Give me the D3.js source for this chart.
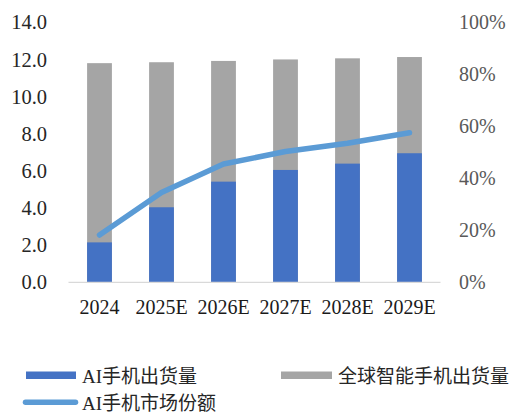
<!DOCTYPE html>
<html>
<head>
<meta charset="utf-8">
<script src="https://cdn.jsdelivr.net/npm/d3@7"></script>
<style>
  body { margin: 0; background: #fff; }
  svg { display: block; }
</style>
</head>
<body>
<svg id="chart"></svg>
<script>
const years = ["2024", "2025E", "2026E", "2027E", "2028E", "2029E"];
const aiShipments = [2.15, 4.04, 5.42, 6.05, 6.39, 6.95];
const totalShipments = [11.8, 11.85, 11.92, 12.0, 12.06, 12.13];
const aiShare = [0.182, 0.345, 0.455, 0.503, 0.535, 0.575];
const leftTicks = [0, 2, 4, 6, 8, 10, 12, 14];
const rightTicks = [0, 0.2, 0.4, 0.6, 0.8, 1.0];

const width = 513, height = 414;
const serif = "'Liberation Serif', 'Times New Roman', serif";
const cjk = "'Liberation Serif', 'Noto Sans CJK SC', serif";

const svg = d3.select("#chart")
    .attr("width", width)
    .attr("height", height);

const x = d3.scaleBand()
    .domain(years)
    .range([68.5, 440.5])
    .paddingInner(0.6)
    .paddingOuter(0.3);

const y = d3.scaleLinear().domain([0, 14]).range([282.3, 22.3]);
const y2 = d3.scaleLinear().domain([0, 1]).range([282.3, 22.3]);

// gray total bars behind, blue AI bars on top
svg.selectAll(".total")
    .data(years)
    .enter().append("rect")
    .attr("class", "total")
    .attr("x", d => x(d))
    .attr("width", x.bandwidth())
    .attr("y", (d, i) => y(totalShipments[i]))
    .attr("height", (d, i) => y(0) - y(totalShipments[i]))
    .attr("fill", "#a5a5a5");

svg.selectAll(".ai")
    .data(years)
    .enter().append("rect")
    .attr("class", "ai")
    .attr("x", d => x(d))
    .attr("width", x.bandwidth())
    .attr("y", (d, i) => y(aiShipments[i]))
    .attr("height", (d, i) => y(0) - y(aiShipments[i]))
    .attr("fill", "#4472c4");

// baseline
svg.append("line")
    .attr("x1", 68.5).attr("x2", 440.5)
    .attr("y1", y(0)).attr("y2", y(0))
    .attr("stroke", "#d9d9d9")
    .attr("stroke-width", 1.2);

const line = d3.line()
    .x((d, i) => x(years[i]) + x.bandwidth() / 2)
    .y(d => y2(d));

svg.append("path")
    .datum(aiShare)
    .attr("d", line)
    .attr("fill", "none")
    .attr("stroke", "#5b9bd5")
    .attr("stroke-width", 5.5)
    .attr("stroke-linecap", "round")
    .attr("stroke-linejoin", "round");

// axes
const leftAxis = svg.append("g")
    .attr("transform", "translate(47,0)")
    .call(d3.axisLeft(y).tickValues(leftTicks).tickFormat(d3.format(".1f")).tickSize(0).tickPadding(0));
leftAxis.select(".domain").remove();
leftAxis.selectAll("text")
    .style("font-family", serif)
    .style("font-size", "20.5px")
    .attr("fill", "#262626");

const rightAxis = svg.append("g")
    .attr("transform", "translate(459,0)")
    .call(d3.axisRight(y2).tickValues(rightTicks).tickFormat(d3.format(".0%")).tickSize(0).tickPadding(0));
rightAxis.select(".domain").remove();
rightAxis.selectAll("text")
    .style("font-family", serif)
    .style("font-size", "20px")
    .attr("fill", "#595959");

const bottomAxis = svg.append("g")
    .attr("transform", "translate(0,299.5)")
    .call(d3.axisBottom(x).tickSize(0).tickPadding(0));
bottomAxis.select(".domain").remove();
bottomAxis.selectAll("text")
    .style("font-family", serif)
    .style("font-size", "20px")
    .attr("fill", "#1a1a1a");

// legend
const legend = svg.append("g")
    .style("font-family", cjk)
    .style("font-size", "19px");

legend.append("rect")
    .attr("x", 26).attr("y", 371.5).attr("width", 50).attr("height", 7.5)
    .attr("fill", "#4472c4");
legend.append("text")
    .attr("x", 82).attr("y", 376).attr("dy", "0.35em")
    .attr("fill", "#262626")
    .text("AI手机出货量");

legend.append("rect")
    .attr("x", 281).attr("y", 371.5).attr("width", 51).attr("height", 7.5)
    .attr("fill", "#a5a5a5");
legend.append("text")
    .attr("x", 338).attr("y", 376).attr("dy", "0.35em")
    .attr("fill", "#262626")
    .text("全球智能手机出货量");

legend.append("line")
    .attr("x1", 25.5).attr("x2", 75.5).attr("y1", 402.3).attr("y2", 402.3)
    .attr("stroke", "#5b9bd5").attr("stroke-width", 5.5)
    .attr("stroke-linecap", "round");
legend.append("text")
    .attr("x", 82).attr("y", 403).attr("dy", "0.35em")
    .attr("fill", "#262626")
    .text("AI手机市场份额");
</script>
</body>
</html>
